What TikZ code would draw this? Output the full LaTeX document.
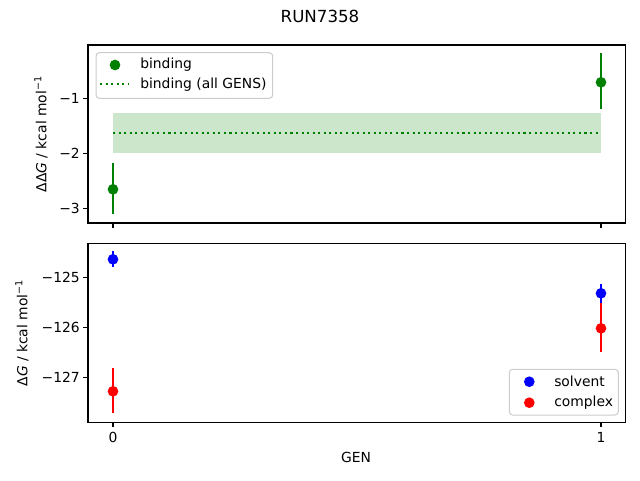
\documentclass[tikz,border=0pt]{standalone}
\usepackage{fontspec}
\setmainfont{DejaVu Sans}
\begin{document}
\begin{tikzpicture}[x=0.75pt,y=-0.75pt,
  font=\fontsize{10.4}{12}\selectfont,
  axis/.style={draw=black,line width=0.83pt},
  tick/.style={line width=0.83pt},
  ebar/.style={line width=1.56pt},
  mk/.style={circle,inner sep=0pt,minimum size=8pt},
  lbl/.style={inner sep=0pt,anchor=east},
  legbox/.style={draw=black!20,fill=white,fill opacity=0.8,rounded corners=2.5pt,line width=0.75pt}]
\useasboundingbox (0,0) rectangle (640,480);
\definecolor{mgreen}{HTML}{008000}
\definecolor{mband}{HTML}{CCE6CC}
% title
\node[font=\fontsize{12.5}{14}\selectfont] (title) at (320,16) {RUN7358};
% ---------- top axes ----------
\fill[mband] (113,113) rectangle (601,153.3);
\draw[mgreen,line width=1.56pt,dash pattern=on 1.56pt off 2.6pt] (113,132.7) -- (601,132.7);
\coordinate (b0t) at (113,163.3); \coordinate (b0b) at (113,214.3);
\coordinate (b1t) at (601,53.3); \coordinate (b1b) at (601,109.3);
\draw[ebar,mgreen] (b0t) -- (b0b);
\draw[ebar,mgreen] (b1t) -- (b1b);
\node[mk,fill=mgreen] (b0) at (113,189.3) {};
\node[mk,fill=mgreen] (b1) at (601,82.3) {};
\draw[axis] (88,45) rectangle (625.3,223);
\foreach \yy/\t in {98.3/{−1},153.3/{−2},208.3/{−3}}{
  \draw[tick] (88,\yy) -- (83.1,\yy);
  \node[lbl] at (80,\yy) {\t};
}
\foreach \xx in {113,601}{\draw[tick] (\xx,223) -- (\xx,227.9);}
\node[rotate=90] (ylab1) at (41,134) {ΔΔ{\itshape G} / kcal mol\textsuperscript{−1}};
% legend top
\draw[legbox] (96,52.7) rectangle (272.7,98.3);
\node[mk,fill=mgreen] (lb) at (115,65) {};
\draw[mgreen,line width=1.56pt,dash pattern=on 1.56pt off 2.6pt] (100,84.3) -- (128,84.3);
\node[anchor=west,inner sep=0pt] (lbt) at (140,65) {binding};
\node[anchor=west,inner sep=0pt] (lat) at (140,84.3) {binding (all GENS)};
% ---------- bottom axes ----------
\coordinate (s0t) at (113,251); \coordinate (s0b) at (113,266.7);
\coordinate (c0t) at (113,367.7); \coordinate (c0b) at (113,413.3);
\coordinate (s1t) at (601,284); \coordinate (s1b) at (601,302.5);
\coordinate (c1t) at (601,303.3); \coordinate (c1b) at (601,351.7);
\draw[ebar,blue] (s0t) -- (s0b);
\draw[ebar,red] (c0t) -- (c0b);
\draw[ebar,blue] (s1t) -- (s1b);
\draw[ebar,red] (c1t) -- (c1b);
\node[mk,fill=blue] (s0) at (113,259.3) {};
\node[mk,fill=red] (c0) at (113,391.3) {};
\node[mk,fill=blue] (s1) at (601,293.3) {};
\node[mk,fill=red] (c1) at (601,328.3) {};
\draw[axis] (88,243.3) rectangle (625.3,422.3);
\foreach \yy/\t in {277.7/{−125},327.7/{−126},377.3/{−127}}{
  \draw[tick] (88,\yy) -- (83.1,\yy);
  \node[lbl] at (80,\yy) {\t};
}
\foreach \xx/\t in {113/0,601/1}{
  \draw[tick] (\xx,422.3) -- (\xx,427.2);
  \node[inner sep=0pt] at (\xx,437.5) {\t};
}
\node (xlab) at (356,457) {GEN};
\node[rotate=90] (ylab2) at (22,333) {Δ{\itshape G} / kcal mol\textsuperscript{−1}};
% legend bottom
\draw[legbox] (509.3,369.3) rectangle (618.3,415);
\node[mk,fill=blue] (ls) at (529.3,381.7) {};
\node[mk,fill=red] (lc) at (529.3,402.7) {};
\node[anchor=west,inner sep=0pt] (lst) at (554,381.7) {solvent};
\node[anchor=west,inner sep=0pt] (lct) at (554,402.7) {complex};
\end{tikzpicture}
\end{document}
